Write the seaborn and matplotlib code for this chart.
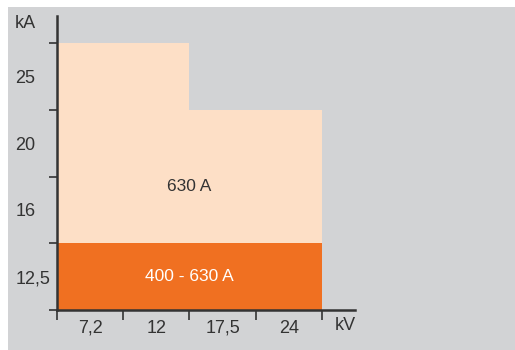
import matplotlib
matplotlib.use('Agg')
import matplotlib.pyplot as plt
import seaborn as sns
import pandas as pd

# rated voltage (kV) categories and short-circuit current bands (kA)
kv_labels = ['7,2', '12', '17,5', '24']
ka_labels = ['12,5', '16', '20', '25']
# top band reached by each current rating, per voltage column
band_630 = [4, 4, 3, 3]
band_400_630 = [1, 1, 1, 1]

bg_grey = '#d2d3d5'
peach = '#fddfc6'
orange = '#f07021'
ink = '#333333'

sns.set_theme(style='white')
plt.rcParams['font.family'] = ['Liberation Sans', 'DejaVu Sans']

fig = plt.figure(figsize=(5.15, 3.5), dpi=100, facecolor='white')
fig.patches.append(plt.Rectangle((8 / 515, 0), 1, 343 / 350, transform=fig.transFigure,
                                 facecolor=bg_grey, edgecolor='none', zorder=-10))
ax = fig.add_axes([57 / 515, 40 / 350, 298 / 515, 294 / 350])
ax.set_facecolor('none')

df = pd.DataFrame({'kV': kv_labels, 'a630': band_630, 'a400': band_400_630})
sns.barplot(data=df, x='kV', y='a630', order=kv_labels, color=peach, width=1.0,
            saturation=1, linewidth=0, ax=ax)
sns.barplot(data=df, x='kV', y='a400', order=kv_labels, color=orange, width=1.0,
            saturation=1, linewidth=0, ax=ax)

ax.set_xlim(-0.5, 4.0)
ax.set_ylim(0, 4.41)

# ticks at band edges, labels in the middle of each band
ax.set_xticks([i - 0.5 for i in range(len(kv_labels) + 1)])
ax.set_xticklabels([])
ax.set_xticks(range(len(kv_labels)), minor=True)
ax.set_xticklabels(kv_labels, minor=True)
ax.set_yticks(range(len(ka_labels) + 1))
ax.set_yticklabels([])
ax.set_yticks([i + 0.5 for i in range(len(ka_labels))], minor=True)
ax.set_yticklabels(ka_labels, minor=True, ha='left')

ax.tick_params(axis='x', which='major', bottom=True, direction='out', length=7, width=1.2, color=ink)
ax.tick_params(axis='y', which='major', left=True, direction='out', length=6, width=1.2, color=ink)
ax.tick_params(axis='x', which='minor', bottom=True, length=0, pad=7, labelsize=13, labelcolor=ink)
ax.tick_params(axis='y', which='minor', left=True, length=0, pad=30, labelsize=13, labelcolor=ink)

sns.despine(ax=ax)
for side in ['left', 'bottom']:
    ax.spines[side].set_color(ink)
    ax.spines[side].set_linewidth(1.8)

ax.set_xlabel('')
ax.set_ylabel('')
fig.text(345 / 515, 1 - 326 / 350, 'kV', ha='center', va='center', fontsize=13, color=ink)
fig.text(15 / 515, 1 - 24 / 350, 'kA', ha='left', va='center', fontsize=13, color=ink)

ax.text(1.5, 1.85, '630 A', ha='center', va='center', fontsize=12.5, color=ink)
ax.text(1.5, 0.5, '400 - 630 A', ha='center', va='center', fontsize=12.5, color='white')

fig.savefig('out.png', dpi=100, facecolor=fig.get_facecolor())
